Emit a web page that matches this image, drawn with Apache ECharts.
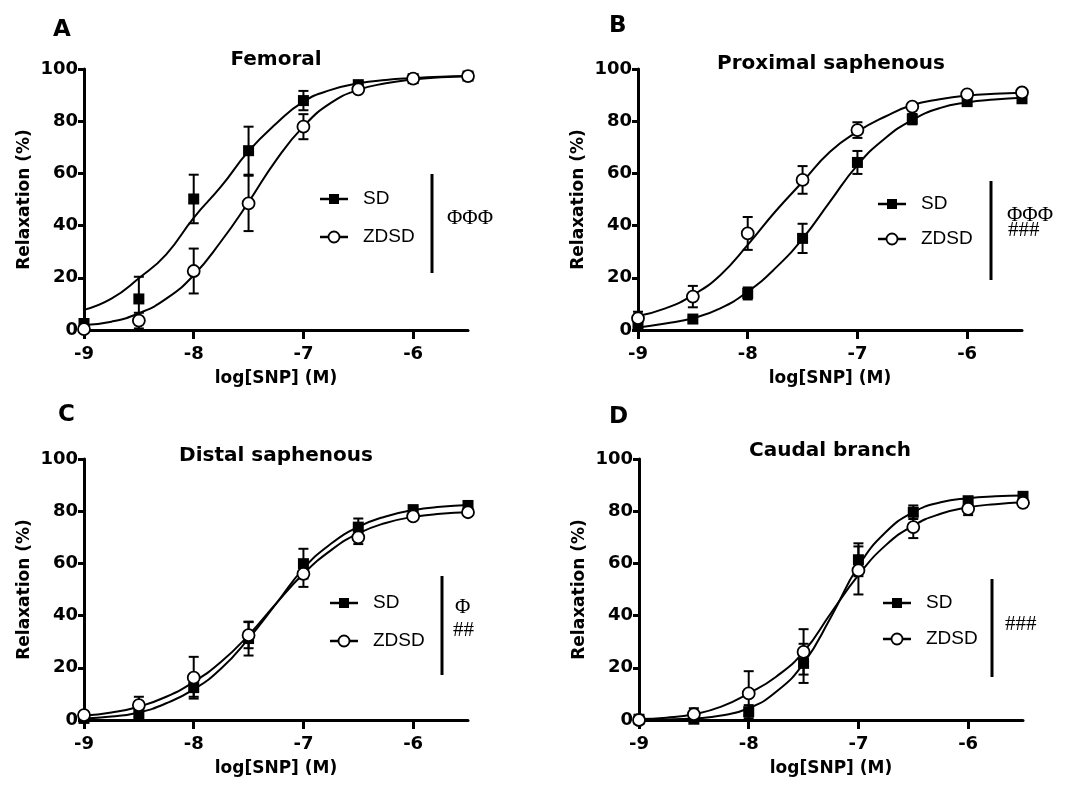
<!DOCTYPE html>
<html>
<head>
<meta charset="utf-8">
<script src="https://cdn.jsdelivr.net/npm/echarts@6.0.0/dist/echarts.min.js"></script>
<style>
  html, body { margin: 0; padding: 0; background: #fff; }
  #chart { width: 1066px; height: 785px; }
</style>
</head>
<body>
<div id="chart"></div>
<script>
// log[SNP] (M) doses and the x positions
const doses = [-9, -8.5, -8, -7.5, -7, -6.5, -6, -5.5]
const fitX = [-9, -8.75, -8.5, -8.25, -8, -7.75, -7.5, -7.25, -7, -6.75, -6.5, -6.25, -6, -5.75, -5.5]
const xTicks = [-9, -8, -7, -6]
const panelTitles = ['Femoral', 'Proximal saphenous', 'Distal saphenous', 'Caudal branch']
const panelLetters = ['A', 'B', 'C', 'D']
const groupNames = ['SD', 'ZDSD']
const statLabels = [['ΦΦΦ'], ['ΦΦΦ', '###'], ['Φ', '##'], ['###']]

// A - femoral
const femSD = [2.5, 11.9, 50.2, 68.7, 87.9, 94, 96.3, 97.3]
const femSDErr = [1, 8.5, 9.3, 9.2, 3.7, 1.2, 1, 0.8]
const femZD = [0.3, 3.6, 22.6, 48.5, 77.9, 92.2, 96.3, 97.3]
const femZDErr = [0.3, 3, 8.6, 10.6, 4.8, 1, 0.8, 0.6]
const femSDFit = [7.7, 12, 19.8, 29, 43, 55, 68.5, 79, 87.5, 92, 94.5, 95.8, 96.5, 97, 97.3]
const femZDFit = [1.9, 3.2, 6.4, 12, 21, 34, 49, 65, 78, 87, 92, 94.5, 96, 96.8, 97.2]

// B - proximal saphenous
const proxSD = [2.5, 4.2, 14, 35.1, 64.2, 80.8, 87.5, 88.6]
const proxSDErr = [1, 0.8, 2.3, 5.6, 4.4, 2, 1, 1]
const proxZD = [4.5, 12.8, 37, 57.5, 76.6, 85.6, 90.3, 91]
const proxZDErr = [2.5, 4.1, 6.3, 5.3, 3, 1, 0.8, 0.8]
const proxSDFit = [1, 2.5, 4.5, 8.3, 14.7, 23.6, 35, 49.2, 63.2, 73.4, 80.5, 85, 87.2, 88.3, 89]
const proxZDFit = [5.4, 8.3, 13.4, 21, 32.6, 45.3, 56.8, 68.3, 76, 81.7, 86.2, 88.4, 89.8, 90.5, 90.9]

// C - distal saphenous
const distSD = [0.6, 2.2, 12.4, 31.2, 59.9, 73.9, 80.6, 82.2]
const distSDErr = [0.5, 1, 3.5, 6.5, 5.7, 3.3, 1, 1]
const distZD = [1.9, 5.7, 16.2, 32.5, 56, 70, 78, 79.6]
const distZDErr = [0.8, 3.2, 8, 5, 5, 2.6, 1, 1]
const distSDFit = [0.6, 1.3, 2.9, 6.4, 11.7, 19.7, 31.2, 44.5, 58, 67.5, 74, 78, 80.4, 81.7, 82.4]
const distZDFit = [1.7, 2.9, 5.1, 8.9, 14.6, 22.3, 32.5, 44.6, 56, 65, 71.5, 75.5, 77.8, 79, 79.6]

// D - caudal branch
const caudSD = [0.3, 0.3, 3.2, 21.7, 61.4, 79.6, 84, 85.7]
const caudSDErr = [0.3, 0.3, 2.5, 7.5, 6.3, 2.6, 1.5, 1]
const caudZD = [0, 2.2, 10.2, 26.1, 57.3, 73.9, 80.9, 83.2]
const caudZDErr = [0.2, 2.3, 8.5, 8.7, 9.2, 4.2, 2.4, 1]
const caudSDFit = [0.1, 0.2, 0.6, 1.7, 4.5, 10.8, 21.7, 39.5, 59, 72, 79.6, 83.4, 85, 85.7, 86]
const caudZDFit = [0.4, 0.9, 2.2, 5.1, 10.2, 16.6, 26.1, 41, 55.5, 67, 74.5, 79, 81.5, 82.7, 83.4]

const panelData = [
  [femSD, femSDErr, femZD, femZDErr, femSDFit, femZDFit],
  [proxSD, proxSDErr, proxZD, proxZDErr, proxSDFit, proxZDFit],
  [distSD, distSDErr, distZD, distZDErr, distSDFit, distZDFit],
  [caudSD, caudSDErr, caudZD, caudZDErr, caudSDFit, caudZDFit]
]

// page layout of each panel (pixels)
const layout = [
  { left: 84, top: 69, letter: [53, 32], title: [276, 60], legX: 320, legY: [199, 237], bar: [432, 174, 273], stat: [[447, 218]] },
  { left: 638, top: 69, letter: [609, 28], title: [831, 64], legX: 878, legY: [204, 239], bar: [991, 181, 280], stat: [[1007, 215], [1008, 230]] },
  { left: 84, top: 459, letter: [58, 417], title: [276, 456], legX: 330, legY: [603, 641], bar: [442, 576, 675], stat: [[455, 607], [453, 630]] },
  { left: 639, top: 459, letter: [609, 419], title: [830, 451], legX: 883, legY: [603, 639], bar: [992, 579, 677], stat: [[1005, 624]] }
]

const BOLD = 'DejaVu Sans'
const grids = []
const xAxes = []
const yAxes = []
const series = []
const graphics = []

function errorBars (idx, means, errs) {
  return {
    type: 'custom',
    xAxisIndex: idx,
    yAxisIndex: idx,
    z: 3,
    silent: true,
    data: doses.map((x, i) => [x, means[i], errs[i]]),
    renderItem (params, api) {
      const x = api.value(0)
      const y = api.value(1)
      const e = api.value(2)
      const hi = api.coord([x, y + e])
      const lo = api.coord([x, y - e])
      const st = { stroke: '#000', lineWidth: 2 }
      return {
        type: 'group',
        children: [
          { type: 'line', shape: { x1: hi[0], y1: hi[1], x2: lo[0], y2: lo[1] }, style: st },
          { type: 'line', shape: { x1: hi[0] - 5, y1: hi[1], x2: hi[0] + 5, y2: hi[1] }, style: st },
          { type: 'line', shape: { x1: lo[0] - 5, y1: lo[1], x2: lo[0] + 5, y2: lo[1] }, style: st }
        ]
      }
    }
  }
}

layout.forEach((p, idx) => {
  const [sd, sdErr, zd, zdErr, sdFit, zdFit] = panelData[idx]
  grids.push({ left: p.left, top: p.top, width: 384, height: 261, containLabel: false, outerBoundsMode: 'none' })
  xAxes.push({
    type: 'value', gridIndex: idx, min: -9, max: -5.5, interval: 1,
    name: 'log[SNP] (M)', nameLocation: 'middle', nameGap: 40,
    nameTextStyle: { color: '#000', fontFamily: BOLD, fontWeight: 'bold', fontSize: 17 },
    axisLine: { lineStyle: { color: '#000', width: 3 } },
    axisTick: { length: 9, lineStyle: { color: '#000', width: 3 }, customValues: xTicks },
    axisLabel: { color: '#000', fontFamily: BOLD, fontWeight: 'bold', fontSize: 18, margin: 15, customValues: xTicks },
    splitLine: { show: false }
  })
  yAxes.push({
    type: 'value', gridIndex: idx, min: 0, max: 100, interval: 20,
    name: 'Relaxation (%)', nameLocation: 'middle', nameGap: 51,
    nameTextStyle: { color: '#000', fontFamily: BOLD, fontWeight: 'bold', fontSize: 17 },
    axisLine: { show: true, lineStyle: { color: '#000', width: 3 } },
    axisTick: { show: true, length: 6, lineStyle: { color: '#000', width: 3 } },
    axisLabel: { color: '#000', fontFamily: BOLD, fontWeight: 'bold', fontSize: 18, margin: 6 },
    splitLine: { show: false }
  })

  // fitted curves
  ;[sdFit, zdFit].forEach((fit, k) => {
    series.push({
      type: 'line', name: groupNames[k], xAxisIndex: idx, yAxisIndex: idx,
      data: fitX.map((x, i) => [x, fit[i]]),
      smooth: 0.5, showSymbol: false, silent: true, z: 2,
      lineStyle: { color: '#000', width: 2 }
    })
  })
  series.push(errorBars(idx, sd, sdErr))
  series.push(errorBars(idx, zd, zdErr))
  series.push({
    type: 'scatter', name: 'SD', xAxisIndex: idx, yAxisIndex: idx, z: 4, silent: true,
    symbol: 'rect', symbolSize: 11, itemStyle: { color: '#000', opacity: 1 },
    data: doses.map((x, i) => [x, sd[i]])
  })
  series.push({
    type: 'scatter', name: 'ZDSD', xAxisIndex: idx, yAxisIndex: idx, z: 5, silent: true,
    symbol: 'circle', symbolSize: 12, itemStyle: { color: '#fff', borderColor: '#000', borderWidth: 1.8, opacity: 1 },
    data: doses.map((x, i) => [x, zd[i]])
  })

  // panel letter and title
  graphics.push({ type: 'text', left: p.letter[0], top: p.letter[1] - 13,
    style: { text: panelLetters[idx], font: 'bold 23px "DejaVu Sans"', fill: '#000' } })
  graphics.push({ type: 'text', x: p.title[0], y: p.title[1],
    style: { text: panelTitles[idx], font: 'bold 20px "DejaVu Sans"', fill: '#000', align: 'center', verticalAlign: 'middle' } })

  // legend
  p.legY.forEach((ly, k) => {
    graphics.push({ type: 'line', shape: { x1: p.legX, y1: ly, x2: p.legX + 28, y2: ly }, style: { stroke: '#000', lineWidth: 2.5 } })
    if (k === 0) {
      graphics.push({ type: 'rect', shape: { x: p.legX + 9, y: ly - 5, width: 10, height: 10 }, style: { fill: '#000' } })
    } else {
      graphics.push({ type: 'circle', shape: { cx: p.legX + 14, cy: ly, r: 5.5 }, style: { fill: '#fff', stroke: '#000', lineWidth: 1.8 } })
    }
    graphics.push({ type: 'text', x: p.legX + 43, y: ly,
      style: { text: groupNames[k], font: '19px "Liberation Sans"', fill: '#000', verticalAlign: 'middle' } })
  })

  // significance bar and marks
  graphics.push({ type: 'line', shape: { x1: p.bar[0], y1: p.bar[1], x2: p.bar[0], y2: p.bar[2] }, style: { stroke: '#000', lineWidth: 3 } })
  statLabels[idx].forEach((s, k) => {
    graphics.push({ type: 'text', x: p.stat[k][0], y: p.stat[k][1],
      style: { text: s, font: '21px "Liberation Serif"', fill: '#000', verticalAlign: 'middle' } })
  })
})

const myChart = echarts.init(document.getElementById('chart'))
myChart.setOption({
  backgroundColor: '#fff',
  animation: false,
  grid: grids,
  xAxis: xAxes,
  yAxis: yAxes,
  series: series,
  graphic: graphics
})
</script>
</body>
</html>
